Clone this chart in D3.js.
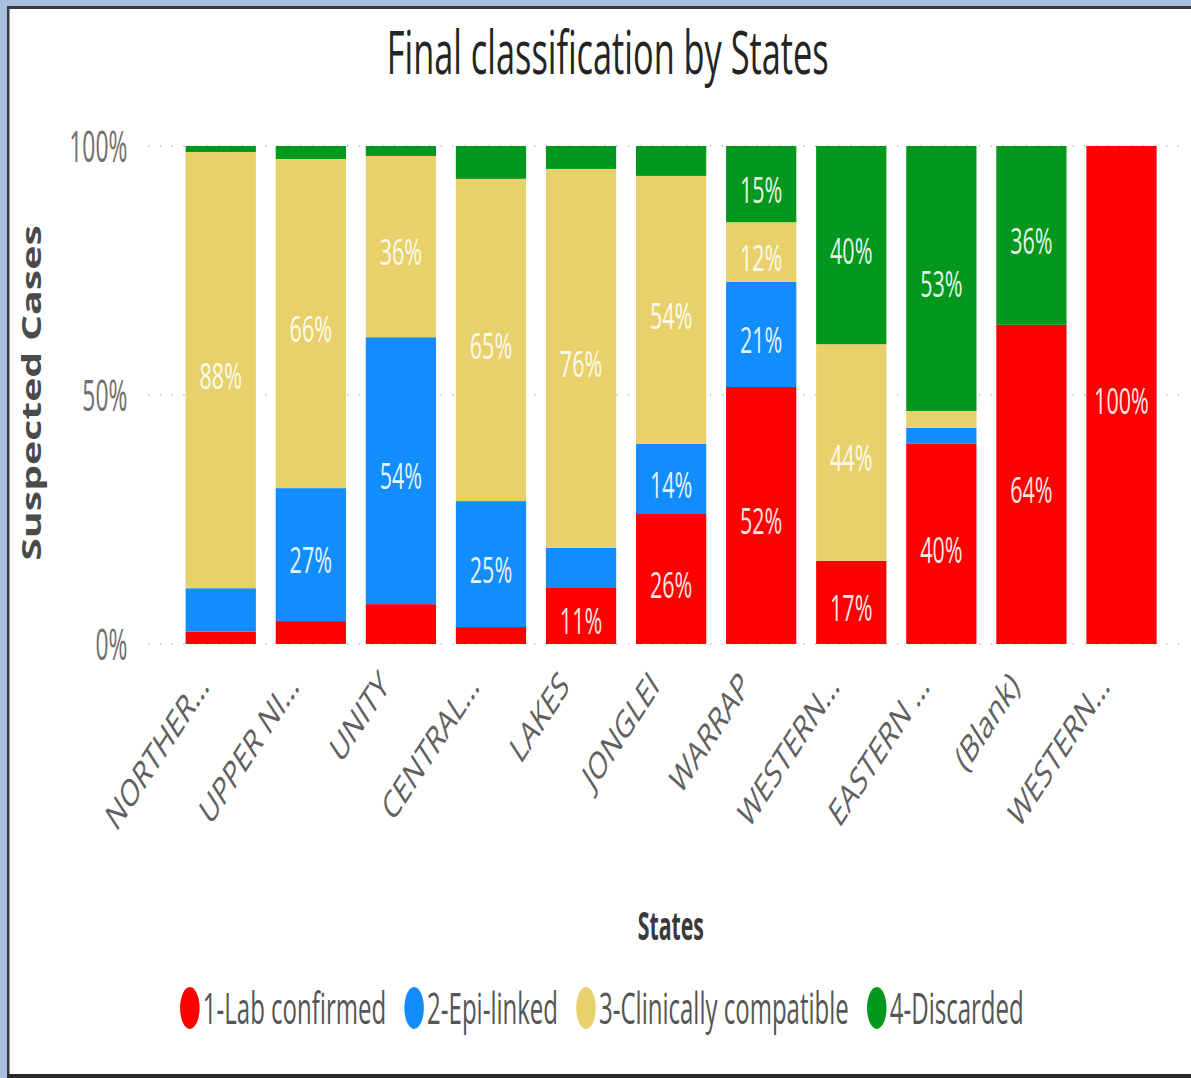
<!DOCTYPE html>
<html>
<head>
<meta charset="utf-8">
<script src="https://cdn.jsdelivr.net/npm/d3@7"></script>
<style>
  body { margin: 0; background: #fff; }
  text { font-family: "Open Sans", "Noto Sans", sans-serif; }
</style>
</head>
<body>
<div id="chart"></div>
<script>
// States on the x axis (names truncated as in the report)
const states = ["NORTHER\u2026", "UPPER NI\u2026", "UNITY", "CENTRAL\u2026", "LAKES", "JONGLEI",
                "WARRAP", "WESTERN\u2026", "EASTERN \u2026", "(Blank)", "WESTERN\u2026 "];

// Share of suspected cases per classification (percent), one value per state
const labConfirmed  = [2.5, 4.6, 8.0, 3.4, 11.4, 26.1, 51.6, 16.7, 40.2, 64.1, 100];
const epiLinked     = [8.7, 26.7, 53.6, 25.3, 7.9, 14.1, 21.1, 0, 3.2, 0, 0];
const clinically    = [87.6, 66.1, 36.4, 64.7, 76.1, 53.8, 12.0, 43.5, 3.4, 0, 0];
const discarded     = [1.2, 2.6, 2.0, 6.6, 4.6, 6.0, 15.3, 39.8, 53.2, 35.9, 0];

const seriesNames = ["1-Lab confirmed", "2-Epi-linked", "3-Clinically compatible", "4-Discarded"];
const seriesColors = ["#fe0000", "#128dfd", "#e8d06a", "#01981d"];
const yTicks = [0, 0.5, 1];

// the report image is squeezed horizontally, so everything is drawn wide then scaled
const sx = 0.65;
const width = 1191, height = 1078;
const margin = {top: 146, bottom: 434, left: 228, right: 1823};

const rows = states.map((s, i) => ({
  state: s,
  [seriesNames[0]]: labConfirmed[i],
  [seriesNames[1]]: epiLinked[i],
  [seriesNames[2]]: clinically[i],
  [seriesNames[3]]: discarded[i]
}));
const stacked = d3.stack().keys(seriesNames)(rows);

const x = d3.scaleBand()
  .domain(states)
  .range([244, 1821])
  .paddingInner(0.22)
  .paddingOuter(0.3);

const y = d3.scaleLinear()
  .domain([0, 100])
  .range([644, 146]);

const color = d3.scaleOrdinal().domain(seriesNames).range(seriesColors);

const svg = d3.select("#chart").append("svg")
  .attr("width", width)
  .attr("height", height);

svg.append("rect").attr("width", width).attr("height", height).attr("fill", "#fff");

// frame of the screenshot
svg.append("rect").attr("x", 0).attr("y", 0).attr("width", 7).attr("height", height).attr("fill", "#aabfdf");
svg.append("rect").attr("x", 0).attr("y", 0).attr("width", width).attr("height", 6).attr("fill", "#aabfdf");
svg.append("rect").attr("x", 7).attr("y", 6).attr("width", width - 7).attr("height", 3).attr("fill", "#3a3a3a");
svg.append("rect").attr("x", 7).attr("y", 6).attr("width", 2.5).attr("height", height - 6).attr("fill", "#3a3a3a");
svg.append("rect").attr("x", 7).attr("y", height - 4).attr("width", width - 7).attr("height", 4).attr("fill", "#2a2a2a");

const g = svg.append("g").attr("transform", `scale(${sx},1)`);

// squeeze a text to a share of its natural length
function condense(sel, k) {
  sel.each(function () {
    const len = this.getComputedTextLength();
    d3.select(this).attr("textLength", len * k).attr("lengthAdjust", "spacingAndGlyphs");
  });
}

// title
g.append("text")
  .attr("x", 935).attr("y", 74)
  .attr("text-anchor", "middle")
  .attr("font-size", 60)
  .attr("fill", "#252423")
  .text("Final classification by States")
  .call(condense, 0.88);

// gridlines
g.append("g").selectAll("line")
  .data(yTicks)
  .join("line")
    .attr("x1", margin.left).attr("x2", margin.right)
    .attr("y1", d => y(d * 100)).attr("y2", d => y(d * 100))
    .attr("stroke", "#c8c8c8")
    .attr("stroke-width", 2)
    .attr("stroke-dasharray", "2 16");

// y axis labels
const yAxis = d3.axisLeft(y)
  .tickValues(yTicks.map(d => d * 100))
  .tickFormat(d => d + "%")
  .tickSize(0)
  .tickPadding(0);

g.append("g")
  .attr("transform", "translate(196,0)")
  .call(yAxis)
  .call(a => a.select(".domain").remove())
  .call(a => a.selectAll("text")
      .attr("font-family", "Open Sans")
      .attr("font-size", 44)
      .attr("fill", "#6f6f6f")
      .attr("dy", "0.36em")
      .call(condense, 0.8));

// bars
const layer = g.append("g").selectAll("g")
  .data(stacked)
  .join("g")
    .attr("fill", d => color(d.key));

layer.selectAll("rect")
  .data(d => d)
  .join("rect")
    .attr("x", d => x(d.data.state))
    .attr("width", x.bandwidth())
    .attr("y", d => y(d[1]))
    .attr("height", d => y(d[0]) - y(d[1]));

// data labels
const labels = [];
stacked.forEach(s => s.forEach(d => {
  const v = d[1] - d[0];
  if (v >= 10) labels.push({state: d.data.state, mid: (d[0] + d[1]) / 2, v: v});
}));

g.append("g").selectAll("text")
  .data(labels)
  .join("text")
    .attr("x", d => x(d.state) + x.bandwidth() / 2)
    .attr("y", d => y(d.mid))
    .attr("dy", "0.52em")
    .attr("text-anchor", "middle")
    .attr("font-size", 36)
    .attr("fill", "#fff")
    .attr("fill-opacity", 0.92)
    .text(d => Math.round(d.v) + "%")
    .call(condense, 0.92);

// x axis labels
g.append("g").selectAll("text")
  .data(states)
  .join("text")
    .attr("transform", d => `translate(${x(d) + x.bandwidth() / 2 - 16},688) rotate(-45)`)
    .attr("text-anchor", "end")
    .attr("font-size", 38)
    .attr("fill", "#606060")
    .text(d => d);

// axis titles
g.append("text")
  .attr("x", 1032).attr("y", 940)
  .attr("text-anchor", "middle")
  .attr("font-size", 40)
  .attr("font-weight", "bold")
  .attr("fill", "#3a3a3a")
  .text("States")
  .call(condense, 0.82);

g.append("text")
  .attr("transform", "translate(63,393) rotate(-90)")
  .attr("text-anchor", "middle")
  .attr("font-size", 41)
  .attr("font-weight", "bold")
  .attr("fill", "#4a4a4a")
  .text("Suspected Cases");

// legend
const legend = g.append("g");
let lx = 0;
seriesNames.forEach((name, i) => {
  const item = legend.append("g").attr("transform", `translate(${lx},0)`);
  item.append("ellipse")
    .attr("cx", 15).attr("cy", 0)
    .attr("rx", 15).attr("ry", 21)
    .attr("fill", seriesColors[i]);
  const t = item.append("text")
    .attr("x", 35).attr("y", 0)
    .attr("dy", "0.36em")
    .attr("font-size", 44)
    .attr("fill", "#555")
    .text(name)
    .call(condense, 0.84);
  lx += 35 + (+t.attr("textLength")) + 28;
});
const legendW = lx - 28;
legend.attr("transform", `translate(${926 - legendW / 2},1008)`);
</script>
</body>
</html>
